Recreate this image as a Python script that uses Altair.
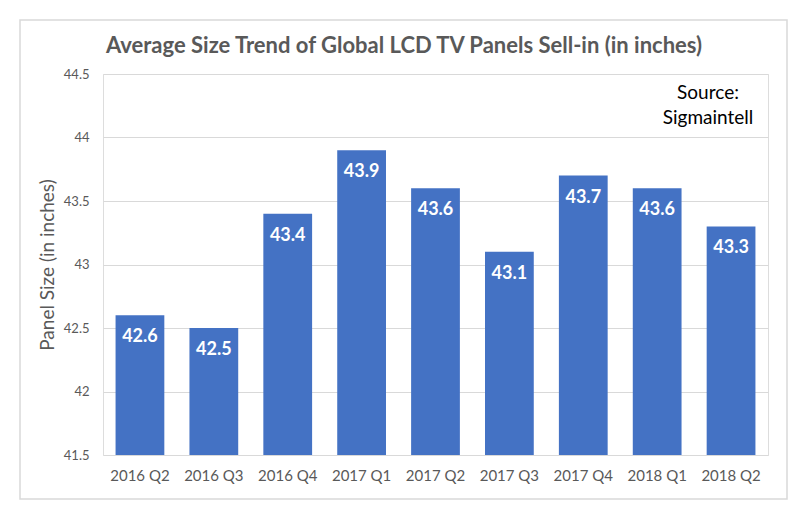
import altair as alt
import pandas as pd

quarters = ["2016 Q2", "2016 Q3", "2016 Q4", "2017 Q1", "2017 Q2",
            "2017 Q3", "2017 Q4", "2018 Q1", "2018 Q2"]
sizes = [42.6, 42.5, 43.4, 43.9, 43.6, 43.1, 43.7, 43.6, 43.3]
y_ticks = [41.5, 42, 42.5, 43, 43.5, 44, 44.5]
title_text = "Average Size Trend of Global LCD TV Panels Sell-in (in inches)"
source_lines = ["Source:", "Sigmaintell"]

df = pd.DataFrame({"quarter": quarters, "size": sizes})
one = pd.DataFrame({"k": [0]})

FONT = "Lato"
W, H = 665, 381

x = alt.X("quarter:N", sort=quarters,
          scale=alt.Scale(paddingInner=0.34, paddingOuter=0.17),
          axis=alt.Axis(title=None, labelAngle=0, labelFontSize=15, labelColor="#595959",
                        labelFont=FONT, ticks=False, domain=False, labelPadding=13))
y = alt.Y("size:Q",
          scale=alt.Scale(domain=[41.5, 44.5], zero=False, nice=False),
          axis=alt.Axis(title="Panel Size (in inches)", values=y_ticks, format=".1~f",
                        labelFontSize=13, labelColor="#595959", labelFont=FONT,
                        titleFont=FONT, titleFontSize=19, titleColor="#595959",
                        titleFontWeight="normal", titlePadding=6,
                        ticks=False, domain=False, labelPadding=14,
                        grid=True, gridColor="#D9D9D9", gridWidth=1))

border = alt.Chart(one).mark_rect(fill=None, stroke="#D9D9D9", strokeWidth=1.5, clip=False).encode(
    x=alt.value(-83), x2=alt.value(W + 19), y=alt.value(-54), y2=alt.value(H + 44)
)

bars = alt.Chart(df).mark_bar(color="#4472C4", clip=True).encode(x=x, y=y)

labels = alt.Chart(df).mark_text(color="white", fontWeight="bold", fontSize=18, font=FONT,
                                 baseline="middle", dy=22).encode(
    x=alt.X("quarter:N", sort=quarters), y="size:Q", text=alt.Text("size:Q", format=".1f"))

title = alt.Chart(one).mark_text(text=title_text, font=FONT, fontSize=22, fontWeight="bold",
                                 color="#595959", align="center", baseline="middle").encode(
    x=alt.value(301), y=alt.value(-28))

src1 = alt.Chart(one).mark_text(text=source_lines[0], fontSize=19, font=FONT, color="#000000",
                                align="center", baseline="middle").encode(
    x=alt.value(605), y=alt.value(19))
src2 = alt.Chart(one).mark_text(text=source_lines[1], fontSize=19, font=FONT, color="#000000",
                                align="center", baseline="middle").encode(
    x=alt.value(605), y=alt.value(44))

chart = alt.layer(border, bars, labels, title, src1, src2).properties(
    width=W, height=H,
    autosize=alt.AutoSizeParams(type="none"),
    padding={"left": 95, "top": 66, "right": 24, "bottom": 50},
).configure_view(stroke=None).configure(background="white")

chart.save("out.html", embed_options={"renderer": "svg", "actions": False})
